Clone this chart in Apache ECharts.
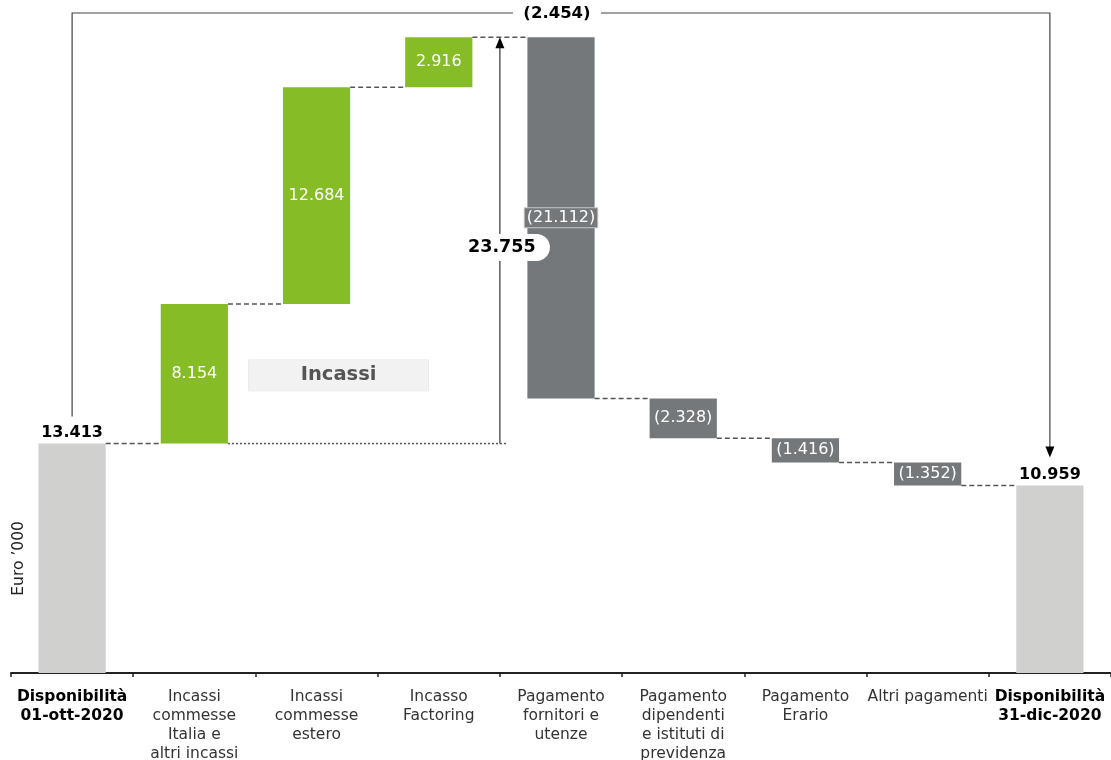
<!DOCTYPE html>
<html><head><meta charset="utf-8">
<script src="https://cdn.jsdelivr.net/npm/echarts@6/dist/echarts.min.js"></script>
<style>html,body{margin:0;padding:0;background:#fff}#c{width:1111px;height:760px}</style>
</head><body><div id="c"></div>
<script>
const categories = [
  'Disponibilità\n01-ott-2020',
  'Incassi\ncommesse\nItalia e\naltri incassi',
  'Incassi\ncommesse\nestero',
  'Incasso\nFactoring',
  'Pagamento\nfornitori e\nutenze',
  'Pagamento\ndipendenti\ne istituti di\nprevidenza',
  'Pagamento\nErario',
  'Altri pagamenti',
  'Disponibilità\n31-dic-2020'
];
const kinds = ['total','up','up','up','down','down','down','down','total'];
const values = [13413, 8154, 12684, 2916, -21112, -2328, -1416, -1352, 10959];
const incassiTotal = 23755;
const netChange = -2454;
const axisMax = 38000;

const FONT = '"DejaVu Sans", Verdana, sans-serif';
const colors = {total:'#D0D0CE', up:'#86BC25', down:'#75787B'};
function fmt(n){ return String(Math.abs(n)).replace(/\B(?=(\d{3})+(?!\d))/g,'.'); }
function fmtSigned(n){ return n < 0 ? '(' + fmt(n) + ')' : fmt(n); }

const base = [], height = [], levels = [];
let cum = 0;
values.forEach((v,i) => {
  if (kinds[i] === 'total') { base.push(0); height.push(v); cum = v; }
  else if (v >= 0) { base.push(cum); height.push(v); cum += v; }
  else { cum += v; base.push(cum); height.push(-v); }
  levels.push(cum);
});

const barData = height.map((h,i) => {
  const k = kinds[i];
  let label;
  if (k === 'total') {
    label = {show:true, position:'top', distance:3, color:'#000', fontWeight:'bold', fontSize:16, fontFamily:FONT, formatter: () => fmtSigned(values[i])};
  } else {
    label = {show:true, position:'inside', color:'#fff', fontSize:16, fontFamily:FONT, formatter: () => fmtSigned(values[i])};
    if (i === 4) { label.backgroundColor = colors.down; label.borderColor = '#c8c8c8'; label.borderWidth = 1; label.padding = [2,2,1,2]; }
  }
  return {value:h, itemStyle:{color:colors[k]}, label};
});

const chart = echarts.init(document.getElementById('c'));
chart.setOption({
  animation:false,
  backgroundColor:'#fff',
  grid:{left:11, right:0, top:23, bottom:87, containLabel:false, outerBoundsMode:'none'},
  xAxis:{
    type:'category', data:categories,
    axisLine:{lineStyle:{color:'#222', width:2}},
    axisTick:{show:true, length:4, lineStyle:{color:'#222', width:1.5}},
    axisLabel:{
      interval:0, fontSize:15.5, lineHeight:19, color:'#333', fontFamily:FONT, margin:14,
      formatter:(val, idx) => (idx === 0 || idx === categories.length-1)
        ? val.split('\n').map(l => '{b|' + l + '}').join('\n') : val,
      rich:{b:{fontWeight:'bold', color:'#000', fontSize:15.5, lineHeight:19, fontFamily:FONT}}
    }
  },
  yAxis:{type:'value', min:0, max:axisMax, show:false, splitLine:{show:false}},
  series:[
    {type:'bar', stack:'w', data:base, itemStyle:{color:'transparent'}, barWidth:'55%', silent:true, z:2},
    {type:'bar', stack:'w', data:barData, barWidth:'55%', z:2},
    {
      type:'custom', z:10, clip:false, data:[[0,0]],
      renderItem:(params, api) => {
        const band = api.size([1,0])[0];
        const half = band * 0.55 / 2;
        const P = (i,v) => api.coord([i,v]);
        const ch = [];
        const dash = {stroke:'#555', lineWidth:1.5, lineDash:[5,3]};
        for (let i = 0; i < values.length-1; i++) {
          const a = P(i, levels[i]), b = P(i+1, levels[i]);
          ch.push({type:'line', shape:{x1:a[0]+half, y1:a[1], x2:b[0]-half, y2:b[1]}, style:dash});
        }
        // incassi arrow
        const ax = (P(3,0)[0] + P(4,0)[0]) / 2;
        const y0 = P(0, levels[0])[1];
        const y3 = P(0, levels[3])[1];
        ch.push({type:'line', shape:{x1:P(1,0)[0]+half, y1:y0, x2:ax+6, y2:y0}, style:{stroke:'#555', lineWidth:1.5, lineDash:[2,2]}});
        ch.push({type:'line', shape:{x1:ax, y1:y0, x2:ax, y2:y3+8}, style:{stroke:'#333', lineWidth:1.2}});
        ch.push({type:'polygon', shape:{points:[[ax,y3],[ax-4.5,y3+11],[ax+4.5,y3+11]]}, style:{fill:'#000'}});
        const my = (y0 + y3) / 2 + 7;
        ch.push({type:'rect', shape:{x:ax-47, y:my-13.5, width:97, height:27, r:13.5}, style:{fill:'#fff'}});
        ch.push({type:'text', x:ax+2, y:my, style:{text:fmt(incassiTotal), fill:'#000', font:'bold 17.5px ' + FONT, align:'center', verticalAlign:'middle', textAlign:'center', textVerticalAlign:'middle'}});
        // net change bracket
        const x0 = P(0,0)[0], x8 = P(8,0)[0];
        const yTop = P(0, axisMax)[1] - 10;
        const y8 = P(8, levels[8])[1];
        ch.push({type:'polyline', shape:{points:[[x0, y0-27],[x0, yTop],[x8, yTop],[x8, y8-36]]}, style:{stroke:'#444', lineWidth:1.2, fill:null}});
        ch.push({type:'polygon', shape:{points:[[x8, y8-28],[x8-4.5, y8-39],[x8+4.5, y8-39]]}, style:{fill:'#000'}});
        const cx = (x0 + x8) / 2 - 4;
        ch.push({type:'rect', shape:{x:cx-44, y:yTop-10, width:88, height:20}, style:{fill:'#fff'}});
        ch.push({type:'text', x:cx, y:yTop+1, style:{text:fmtSigned(netChange), fill:'#000', font:'bold 16.5px ' + FONT, align:'center', verticalAlign:'middle', textAlign:'center', textVerticalAlign:'middle'}});
        // Incassi box
        const bc = P(2, 17400);
        const bx = bc[0] + band * 0.18;
        ch.push({type:'rect', shape:{x:bx-90, y:bc[1]-15.5, width:180, height:31}, style:{fill:'#F2F2F2', stroke:'#EBEBEB', lineWidth:1}});
        ch.push({type:'text', x:bx, y:bc[1], style:{text:'Incassi', fill:'#555', font:'bold 19.5px ' + FONT, align:'center', verticalAlign:'middle', textAlign:'center', textVerticalAlign:'middle'}});
        // y axis name
        const yn = P(0, 6700);
        ch.push({type:'text', x:x0-53, y:yn[1], rotation:Math.PI/2, style:{text:'Euro \u2019000', fill:'#222', font:'15.5px ' + FONT, align:'center', verticalAlign:'middle', textAlign:'center', textVerticalAlign:'middle'}});
        return {type:'group', children:ch};
      }
    }
  ]
});
</script></body></html>
